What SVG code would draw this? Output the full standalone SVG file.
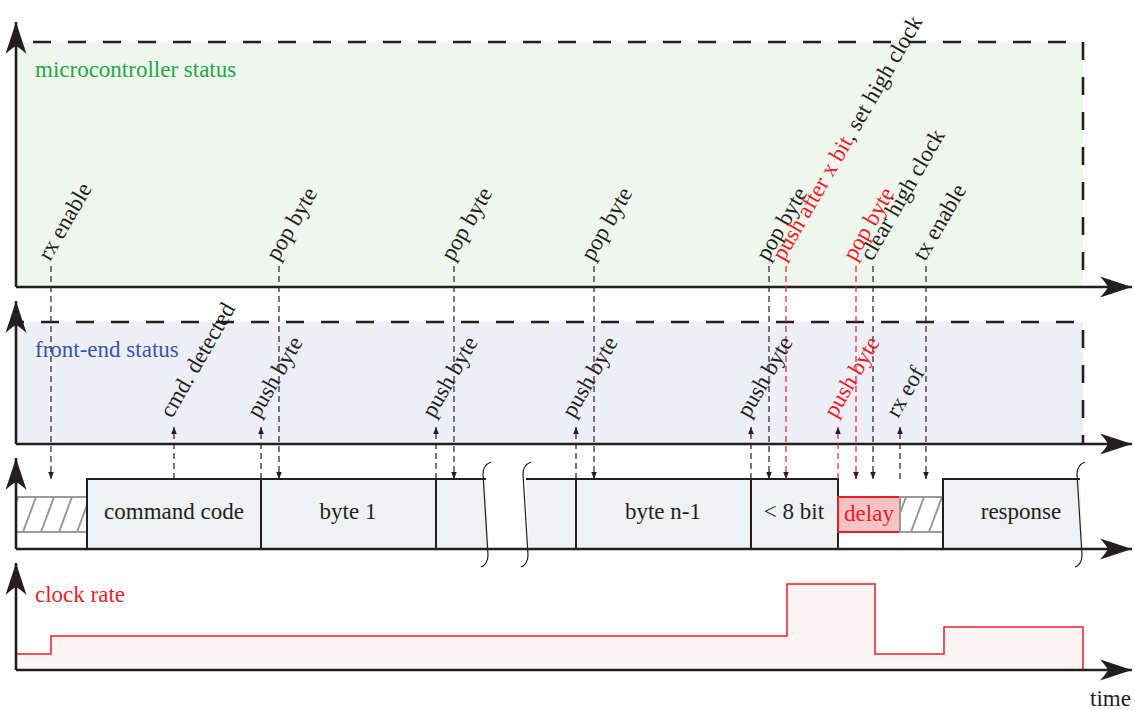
<svg xmlns="http://www.w3.org/2000/svg" width="1135" height="710" viewBox="0 0 1135 710">
<style>
text{font-family:"Liberation Serif","Times New Roman",serif;font-size:23px;fill:#231f20}
.red{fill:#ee1c25}
.axis{stroke:#231f20;stroke-width:2.6;fill:none}
.frame{stroke:#231f20;stroke-width:2.6;fill:none;stroke-dasharray:18 17}
.ev{stroke:#231f20;stroke-width:1.2;fill:none;stroke-dasharray:6 4}
.evr{stroke:#ee1c25;stroke-width:1.2;fill:none;stroke-dasharray:6 4}
.box{fill:#f0f1f3;stroke:#231f20;stroke-width:2}
.edge{stroke:#231f20;stroke-width:2;fill:none}
.hatchbox{fill:#fff;stroke:#9a9a9a;stroke-width:2}
.hatch{stroke:#9a9a9a;stroke-width:2}
.brk{stroke:#231f20;stroke-width:1.2;fill:none}
.mid{text-anchor:middle}
</style>
<defs>
<marker id="big" viewBox="-34 -12 35 24" refX="0" refY="0" markerWidth="35" markerHeight="24" markerUnits="userSpaceOnUse" orient="auto">
<path d="M0,0 L-32,-10.5 Q-26,-4 -24,0 Q-26,4 -32,10.5 Z" fill="#231f20"/>
</marker>
<marker id="sm" viewBox="-8 -4 9 8" refX="0" refY="0" markerWidth="9" markerHeight="8" markerUnits="userSpaceOnUse" orient="auto">
<path d="M0,0 L-7,-2.8 L-7,2.8 Z" fill="#231f20"/>
</marker>
<path id="brk" d="M5,0 C0,2 -3,6 -3,12 L2,93 C2,99 0,103 -5,105"/>
<clipPath id="hc1"><rect x="16" y="497" width="71" height="35"/></clipPath>
<clipPath id="hc2"><rect x="900" y="497" width="43" height="35"/></clipPath>
</defs>

<g id="panel-microcontroller">
<rect x="16" y="42" width="1067" height="245" fill="#eff6ed"/>
<path class="frame" d="M16,42 H1083 V287" stroke-dashoffset="18"/>
<text x="35" y="77" style="fill:#22a84a">microcontroller status</text>
</g>

<g id="panel-frontend">
<rect x="16" y="322" width="1067" height="122" fill="#eeeff6"/>
<path class="frame" d="M16,322 H1083 V444" stroke-dashoffset="10"/>
<text x="35" y="357" style="fill:#3656a8">front-end status</text>
</g>

<g id="panel-clock">
<path d="M16,670 V654 H51 V636 H787 V584 H875 V654 H944 V627 H1083 V670 Z" fill="#fdf4f4"/>
<path d="M16,654 H51 V636 H787 V584 H875 V654 H944 V627 H1083 V670" fill="none" stroke="#ee1c25" stroke-width="1.5"/>
<text x="35" y="602" class="red">clock rate</text>
<text x="1090" y="706">time</text>
</g>

<g id="bitstream">
<rect id="idle1" class="hatchbox" x="16" y="497" width="71" height="35"/>
<g clip-path="url(#hc1)">
<path class="hatch" d="M5,532 L18,497 M23,532 L36,497 M41,532 L54,497 M59,532 L72,497 M77,532 L90,497"/>
</g>
<g id="cmd"><rect class="box" x="87" y="479" width="174" height="70"/><text class="mid" x="174" y="519">command code</text></g>
<g id="byte1"><rect class="box" x="261" y="479" width="175" height="70"/><text class="mid" x="348" y="519">byte 1</text></g>
<g id="byte2">
<path d="M436,549 V479 H486 L489,549 Z" fill="#f0f1f3"/>
<path class="edge" d="M436,549 V479 H486"/>
</g>
<g id="byte-n2">
<path d="M526,479 H576 V549 H529 Z" fill="#f0f1f3"/>
<path class="edge" d="M526,479 H576 V549"/>
</g>
<g id="byten1"><rect class="box" x="576" y="479" width="175" height="70"/><text class="mid" x="663" y="519">byte n-1</text></g>
<g id="partial"><rect class="box" x="751" y="479" width="87" height="70"/><text class="mid" x="794" y="519">&lt; 8 bit</text></g>
<g id="delay"><rect x="838" y="497" width="62" height="35" fill="#f6c3c4" stroke="#ee1c25" stroke-width="2"/><text class="mid red" x="869" y="521">delay</text></g>
<rect id="idle2" class="hatchbox" x="900" y="497" width="43" height="35"/>
<g clip-path="url(#hc2)">
<path class="hatch" d="M893,532 L906,497 M911,532 L924,497 M929,532 L942,497 M947,532 L960,497"/>
</g>
<g id="response">
<path d="M943,549 V479 H1080 L1083,549 Z" fill="#f0f1f3"/>
<path class="edge" d="M943,549 V479 H1080"/>
<text class="mid" x="1021" y="519">response</text>
</g>
<use href="#brk" class="brk" x="486" y="462"/>
<use href="#brk" class="brk" x="526" y="462"/>
<use href="#brk" class="brk" x="1080" y="462"/>
</g>

<g id="axes">
<path class="axis" d="M16,287 V22" marker-end="url(#big)"/>
<path class="axis" d="M16,287 H1132" marker-end="url(#big)"/>
<path class="axis" d="M16,444 V301" marker-end="url(#big)"/>
<path class="axis" d="M16,444 H1132" marker-end="url(#big)"/>
<path class="axis" d="M16,549 V458" marker-end="url(#big)"/>
<path class="axis" d="M16,549 H1132" marker-end="url(#big)"/>
<path class="axis" d="M16,670 V563" marker-end="url(#big)"/>
<path class="axis" d="M16,670 H1132" marker-end="url(#big)"/>
</g>

<g id="connectors">
<path class="ev" d="M51,266 V479" marker-end="url(#sm)"/>
<path class="ev" d="M279,266 V479" marker-end="url(#sm)"/>
<path class="ev" d="M454,266 V479" marker-end="url(#sm)"/>
<path class="ev" d="M594,266 V479" marker-end="url(#sm)"/>
<path class="ev" d="M769,266 V479" marker-end="url(#sm)"/>
<path class="evr" d="M786,266 V479" marker-end="url(#sm)"/>
<path class="evr" d="M856,266 V479" marker-end="url(#sm)"/>
<path class="ev" d="M873,266 V479" marker-end="url(#sm)"/>
<path class="ev" d="M926,266 V479" marker-end="url(#sm)"/>
<path class="ev" d="M174,479 V427" marker-end="url(#sm)"/>
<path class="ev" d="M261,479 V427" marker-end="url(#sm)"/>
<path class="ev" d="M436,479 V427" marker-end="url(#sm)"/>
<path class="ev" d="M576,479 V427" marker-end="url(#sm)"/>
<path class="ev" d="M751,479 V427" marker-end="url(#sm)"/>
<path class="evr" d="M838,479 V427" marker-end="url(#sm)"/>
<path class="ev" d="M900,479 V427" marker-end="url(#sm)"/>
</g>

<g id="labels-micro">
<text transform="translate(50,262) rotate(-60)">rx enable</text>
<text transform="translate(278,262) rotate(-60)">pop byte</text>
<text transform="translate(453,262) rotate(-60)">pop byte</text>
<text transform="translate(593,262) rotate(-60)">pop byte</text>
<text transform="translate(768,262) rotate(-60)">pop byte</text>
<text transform="translate(784,262) rotate(-60)"><tspan class="red">push after x bit</tspan>, set high clock</text>
<text class="red" transform="translate(855,262) rotate(-60)">pop byte</text>
<text transform="translate(872,262) rotate(-60)">clear high clock</text>
<text transform="translate(925,262) rotate(-60)">tx enable</text>
</g>

<g id="labels-frontend">
<text transform="translate(172,419) rotate(-60)">cmd. detected</text>
<text transform="translate(259,419) rotate(-60)">push byte</text>
<text transform="translate(434,419) rotate(-60)">push byte</text>
<text transform="translate(574,419) rotate(-60)">push byte</text>
<text transform="translate(749,419) rotate(-60)">push byte</text>
<text class="red" transform="translate(836,419) rotate(-60)">push byte</text>
<text transform="translate(898,419) rotate(-60)">rx eof</text>
</g>
</svg>
